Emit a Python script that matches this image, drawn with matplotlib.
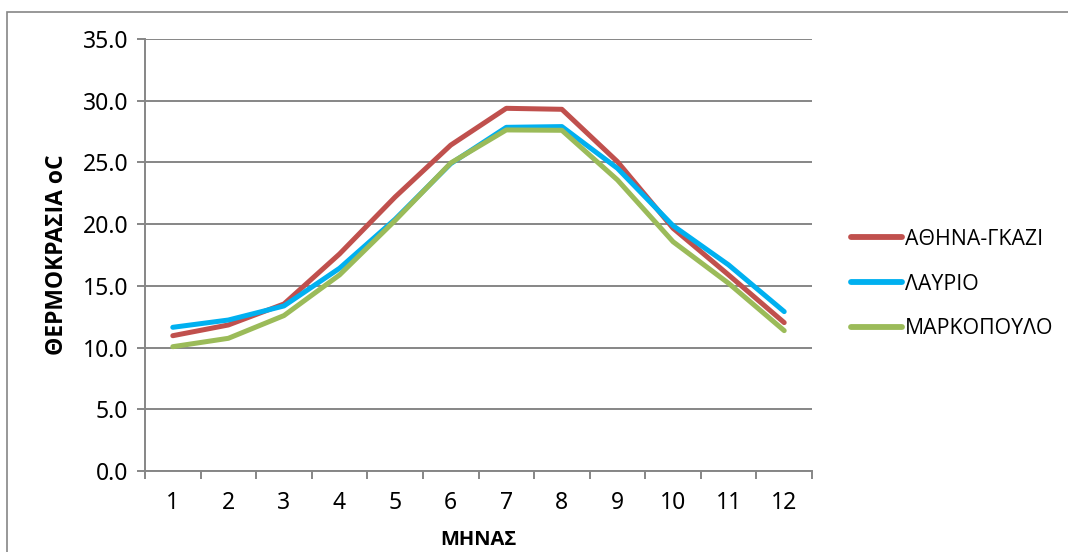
import numpy as np
import matplotlib.pyplot as plt
from matplotlib.patches import Rectangle

plt.rcParams['font.family'] = ['Noto Sans', 'DejaVu Sans']

# monthly mean temperature per station
months = list(range(1, 13))
athina_gkazi = [10.97, 11.84, 13.54, 17.59, 22.2, 26.4, 29.38, 29.30, 25.06, 19.67, 15.89, 12.03]
lavrio = [11.65, 12.24, 13.38, 16.43, 20.4, 24.9, 27.84, 27.9, 24.52, 19.88, 16.70, 12.92]
markopoulo = [10.08, 10.76, 12.60, 15.89, 20.3, 24.95, 27.63, 27.6, 23.58, 18.58, 15.21, 11.38]

labels = ['ΑΘΗΝΑ-ΓΚΑΖΙ', 'ΛΑΥΡΙΟ', 'ΜΑΡΚΟΠΟΥΛΟ']
colors = ['#C0504D', '#00B0F0', '#9BBB59']
yticks = np.arange(0, 35.1, 5)

fig = plt.figure(figsize=(10.68, 5.52), dpi=100)
ax = fig.add_axes([145 / 1068, 1 - 471.2 / 552, (812 - 145) / 1068, (471.2 - 38.9) / 552])

grey = '#868686'
for series, lab, col in zip([athina_gkazi, lavrio, markopoulo], labels, colors):
    ax.plot(months, series, color=col, linewidth=3.6, label=lab,
            solid_joinstyle='round', solid_capstyle='round', zorder=3)

ax.set_xlim(0.5, 12.5)
ax.set_ylim(0, 35)
ax.set_yticks(yticks)
ax.set_yticklabels([f'{v:.1f}' for v in yticks])
ax.yaxis.grid(True, color=grey, linewidth=1.4)
ax.set_axisbelow(True)

# category boundaries carry the tick marks, labels sit in the middle
ax.set_xticks(np.arange(0.5, 12.6, 1))
ax.set_xticklabels([])
ax.set_xticks(months, minor=True)
ax.set_xticklabels([str(m) for m in months], minor=True)
ax.tick_params(axis='x', which='major', length=6, width=1.4, color=grey)
ax.tick_params(axis='x', which='minor', length=0, pad=14, labelsize=16.5)
ax.tick_params(axis='y', length=6, width=1.4, color=grey, labelsize=16.5, pad=6)

for side in ['top', 'right']:
    ax.spines[side].set_visible(False)
for side in ['left', 'bottom']:
    ax.spines[side].set_color(grey)
    ax.spines[side].set_linewidth(1.4)

bold = dict(family=['Open Sans', 'DejaVu Sans'], fontweight='bold')
ax.set_xlabel('ΜΗΝΑΣ', labelpad=11, fontsize=14.5, **bold)
ax.set_ylabel('ΘΕΡΜΟΚΡΑΣΙΑ oC', labelpad=10, fontsize=16.5, **bold)

leg = ax.legend(loc='center left', bbox_to_anchor=(832 / 1068, 1 - 284 / 552),
                bbox_transform=fig.transFigure, frameon=False,
                prop=dict(family=['Open Sans', 'DejaVu Sans'], size=15.3),
                handlelength=2.4, handletextpad=0.15, labelspacing=1.12)
for line in leg.get_lines():
    line.set_linewidth(4.2)

# outer chart border
fig.patches.append(Rectangle((7 / 1068, -0.05), 1.1, 1 - 12 / 552 + 0.05,
                             transform=fig.transFigure, fill=False,
                             edgecolor=grey, linewidth=1.2))

fig.savefig('out.png', dpi=100)
